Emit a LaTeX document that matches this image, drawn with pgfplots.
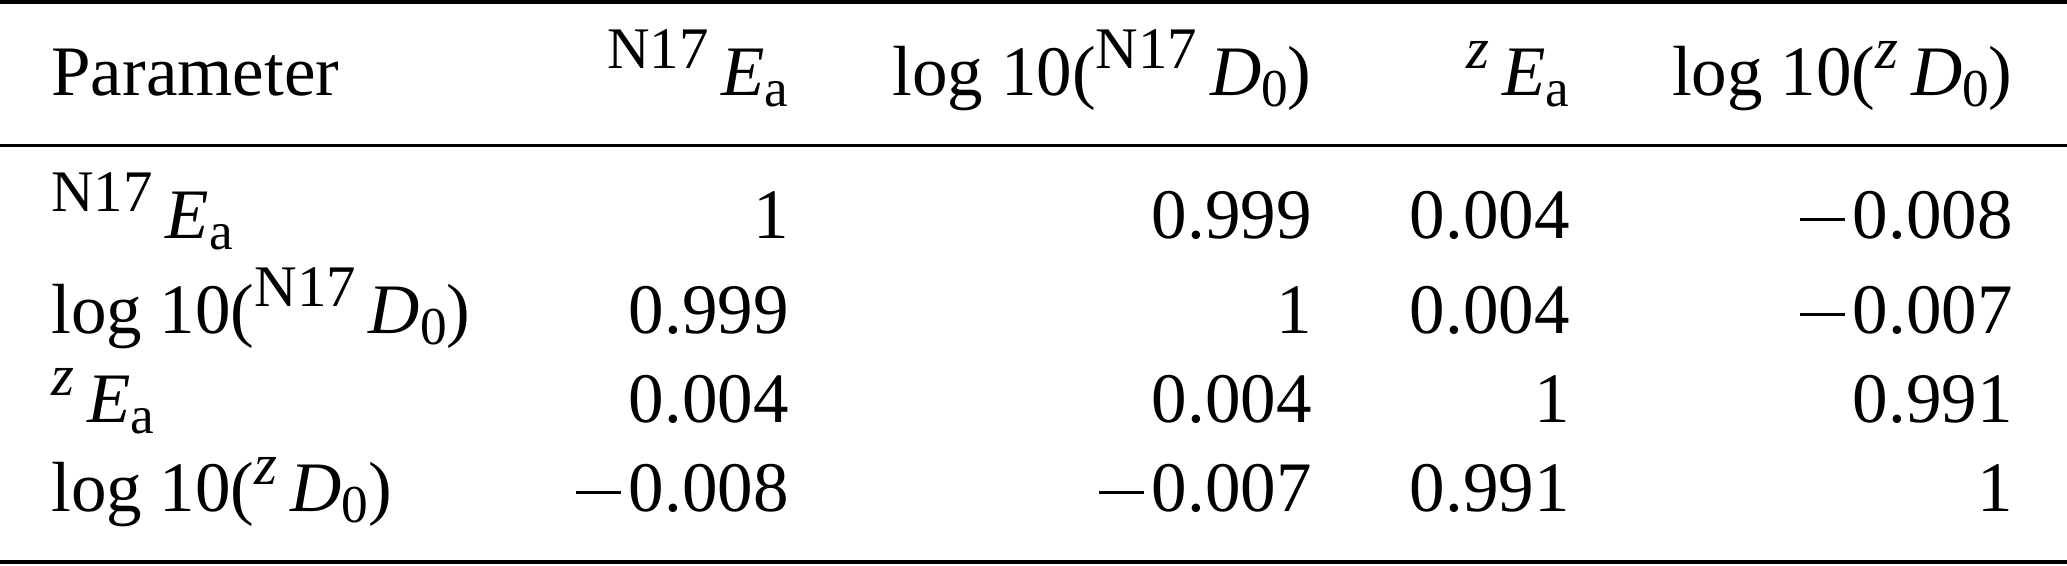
\documentclass[border=0pt]{standalone}
\usepackage{fontspec}
\setmainfont{Liberation Serif}
\usepackage{pgfplots}
\pgfplotsset{compat=1.18}

\newcommand\sups[1]{\raisebox{3.7pt}{\fontsize{8.3}{9}\selectfont #1}}
\newcommand\subs[1]{\raisebox{-1.6pt}{\fontsize{7.5}{9}\selectfont #1}}
\protected\def\NE{\sups{N17}\kern1.8pt{\itshape E}\subs{a}}
\protected\def\ZE{\sups{\itshape z}\kern1.8pt{\itshape E}\subs{a}}
\protected\def\ND{log 10(\sups{N17}\kern1.8pt{\itshape D}\subs{0})}
\protected\def\ZD{log 10(\sups{\itshape z}\kern1.8pt{\itshape D}\subs{0})}
\protected\def\mn{\rule[2.45pt]{6.3pt}{0.4pt}\kern1.1pt}

\begin{document}
\begin{tikzpicture}
\begin{axis}[
  hide axis, scale only axis,
  width=291.13pt, height=79.58pt,
  xmin=0, xmax=2067, ymin=0, ymax=565, y dir=reverse,
  clip=false,
  point meta=explicit symbolic,
  nodes near coords={\pgfplotspointmeta},
]
\coordinate (bl) at (rel axis cs:0,0);
\coordinate (tr) at (rel axis cs:1,1);
% rules
\addplot[black, line width=0.52pt, mark=none] coordinates {(0,1.8) (2067,1.8)};
\addplot[black, line width=0.45pt, mark=none] coordinates {(0,145.5) (2067,145.5)};
\addplot[black, line width=0.52pt, mark=none] coordinates {(0,562) (2067,562)};
% column 1 (labels)
\addplot[only marks, mark=none,
  every node near coord/.append style={anchor=base west, inner sep=0pt, font=\fontsize{10}{12}\selectfont}]
  coordinates {(50,95) [Parameter] (50,238) [\NE] (50,333) [\ND] (50,422) [\ZE] (50,511) [\ZD]};
% column 2
\addplot[only marks, mark=none,
  every node near coord/.append style={anchor=base east, inner sep=0pt, font=\fontsize{10}{12}\selectfont}]
  coordinates {(790,95) [\NE] (790,238) [1] (790,333) [0.999] (790,422) [0.004] (790,511) [\mn 0.008]};
% column 3
\addplot[only marks, mark=none,
  every node near coord/.append style={anchor=base east, inner sep=0pt, font=\fontsize{10}{12}\selectfont}]
  coordinates {(1313,95) [\ND] (1313,238) [0.999] (1313,333) [1] (1313,422) [0.004] (1313,511) [\mn 0.007]};
% column 4
\addplot[only marks, mark=none,
  every node near coord/.append style={anchor=base east, inner sep=0pt, font=\fontsize{10}{12}\selectfont}]
  coordinates {(1571,95) [\ZE] (1571,238) [0.004] (1571,333) [0.004] (1571,422) [1] (1571,511) [0.991]};
% column 5
\addplot[only marks, mark=none,
  every node near coord/.append style={anchor=base east, inner sep=0pt, font=\fontsize{10}{12}\selectfont}]
  coordinates {(2014,95) [\ZD] (2014,238) [\mn 0.008] (2014,333) [\mn 0.007] (2014,422) [0.991] (2014,511) [1]};
\end{axis}
\pgfresetboundingbox
\path[use as bounding box] (bl) rectangle (tr);
\end{tikzpicture}
\end{document}
